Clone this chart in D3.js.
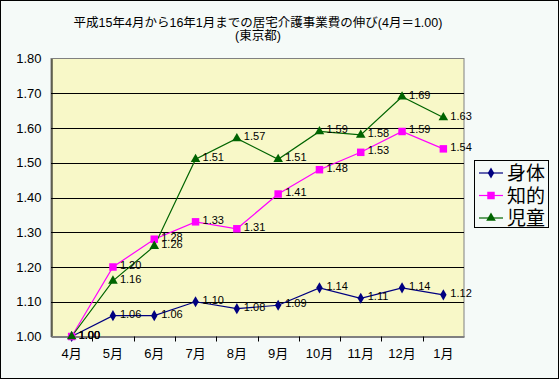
<!DOCTYPE html>
<html><head><meta charset="utf-8">
<script src="https://cdn.jsdelivr.net/npm/d3@7"></script>
<style>body{margin:0;background:#fff}svg{display:block}text{font-family:"Liberation Sans","Noto Sans CJK JP",sans-serif}</style>
</head><body><svg id="c" width="560" height="380"></svg>
<script>
const categories = ["4月","5月","6月","7月","8月","9月","10月","11月","12月","1月"];
const shintai = [1.00,1.06,1.06,1.10,1.08,1.09,1.14,1.11,1.14,1.12];
const chiteki = [1.00,1.20,1.28,1.33,1.31,1.41,1.48,1.53,1.59,1.54];
const jido = [1.00,1.16,1.26,1.51,1.57,1.51,1.59,1.58,1.69,1.63];
const seriesNames = ["身体","知的","児童"];
const yTicks = [1.00,1.10,1.20,1.30,1.40,1.50,1.60,1.70,1.80];
const titleLines = ["平成15年4月から16年1月までの居宅介護事業費の伸び(4月＝1.00)","(東京都)"];

const series = [
  {name:seriesNames[0], values:shintai, color:"#000080", shape:d3.symbolDiamond, size:36},
  {name:seriesNames[1], values:chiteki, color:"#FF00FF", shape:d3.symbolSquare, size:56},
  {name:seriesNames[2], values:jido, color:"#006400", shape:d3.symbolTriangle, size:40}
];

const svg = d3.select("#c");
svg.append("rect").attr("x",0.5).attr("y",0.5).attr("width",558).attr("height",378)
  .attr("fill","#F5FAF8").attr("stroke","#000");

const L=51, R=464, T=58.5, B=336.5;
const x = d3.scaleBand().domain(categories).range([L,R]);
const y = d3.scaleLinear().domain([1.0,1.8]).range([B,T]);

svg.append("rect").attr("x",L).attr("y",T).attr("width",R-L).attr("height",B-T).attr("fill","#F8F8C8")
  .attr("stroke","#808080");

// grid
svg.append("g").selectAll("line").data(yTicks.slice(1,-1)).join("line")
  .attr("x1",L).attr("x2",R).attr("y1",d=>Math.round(y(d))+0.5).attr("y2",d=>Math.round(y(d))+0.5)
  .attr("stroke","#000");

// y axis
const ya = svg.append("g").attr("transform",`translate(${L+0.5},0)`)
  .call(d3.axisLeft(y).tickValues(yTicks).tickFormat(d3.format(".2f")).tickSize(0).tickPadding(10));
ya.select(".domain").attr("stroke","#000");
ya.selectAll("text").attr("font-size",13).attr("fill","#000").attr("font-family","Liberation Sans, sans-serif");

// x axis
const xa = svg.append("g").attr("transform",`translate(0,${B})`)
  .call(d3.axisBottom(x).tickSize(0).tickPadding(12));
xa.select(".domain").attr("stroke","#808080").attr("stroke-width",2);
xa.selectAll("text").attr("font-size",13).attr("fill","#000");
xa.append("g").selectAll("line").data(categories.slice(1)).join("line")
  .attr("x1",d=>Math.round(x(d))+0.5).attr("x2",d=>Math.round(x(d))+0.5).attr("y1",0).attr("y2",5)
  .attr("stroke","#000");

// lines
const cx = d=>x(d)+x.bandwidth()/2;
series.forEach(s=>{
  const pts = categories.map((c,i)=>[cx(c), y(s.values[i]), s.values[i]]);
  svg.append("path").datum(pts).attr("fill","none").attr("stroke",s.color).attr("stroke-width",1.2)
    .attr("d",d3.line());
});
series.forEach(s=>{
  const pts = categories.map((c,i)=>[cx(c), y(s.values[i]), s.values[i]]);
  svg.append("g").selectAll("path").data(pts).join("path")
    .attr("transform",d=>`translate(${d[0]},${d[1]})`)
    .attr("d",d3.symbol().type(s.shape).size(s.size)).attr("fill",s.color);
  svg.append("g").selectAll("text").data(pts).join("text")
    .attr("x",d=>d[0]+7).attr("y",d=>d[1]+2)
    .attr("font-size",11).attr("fill","#000").text(d=>d[2].toFixed(2));
});

// title
svg.append("g").selectAll("text").data(titleLines).join("text")
  .attr("x",258).attr("y",(d,i)=>27+i*13).attr("text-anchor","middle").attr("font-size",12.5)
  .attr("fill","#000").text(d=>d);

// legend
const lg = svg.append("g");
lg.append("rect").attr("x",474.5).attr("y",160.5).attr("width",74).attr("height",67).attr("fill","#F5FAF8").attr("stroke","#000");
series.forEach((s,i)=>{
  const yy = 173 + i*22.5;
  lg.append("line").attr("x1",479).attr("x2",503).attr("y1",yy).attr("y2",yy).attr("stroke",s.color).attr("stroke-width",1.2);
  lg.append("path").attr("transform",`translate(491,${yy})`).attr("d",d3.symbol().type(s.shape).size(s.size)).attr("fill",s.color);
  lg.append("text").attr("x",507).attr("y",yy+7).attr("font-size",19).attr("fill","#000").text(s.name);
});
</script></body></html>
